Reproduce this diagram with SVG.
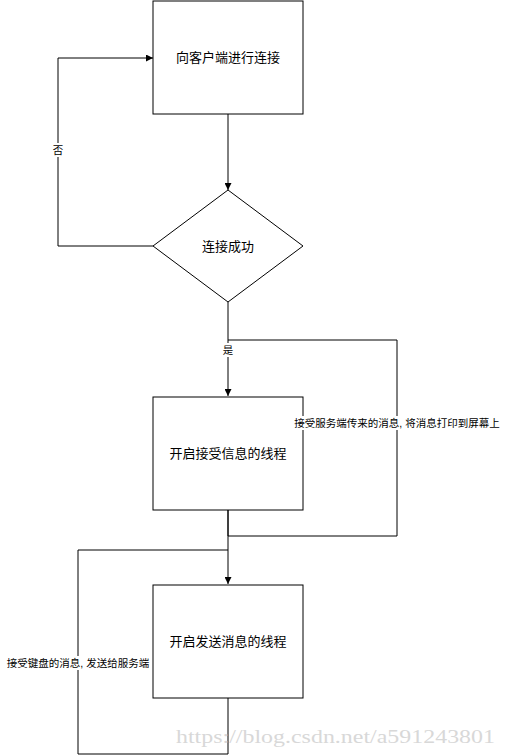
<svg xmlns="http://www.w3.org/2000/svg" width="507" height="756" viewBox="0 0 507 756">
<style>
.node{fill:#fff;stroke:#000;stroke-width:1}
.t{font-family:"Liberation Sans","Noto Sans CJK SC",sans-serif;font-size:13px;text-anchor:middle;dominant-baseline:central;fill:#000}
.lb{font-family:"Liberation Sans","Noto Sans CJK SC",sans-serif;font-size:10.5px;text-anchor:middle;dominant-baseline:central;fill:#000}
.c{fill:none;stroke:#000;stroke-width:1}
.wm{font-family:"Liberation Serif","DejaVu Serif",serif;font-size:19px;fill:#d8d8d8}
</style>
<defs>
<marker id="ar" viewBox="0 0 10 10" refX="10" refY="5" markerWidth="7" markerHeight="7" markerUnits="userSpaceOnUse" orient="auto">
<path d="M0,0 L10,5 L0,10 z" fill="#000"/>
</marker>
</defs>
<rect width="507" height="756" fill="#fff"/>
<g id="connectors">
<path class="c" d="M228,114 V190" marker-end="url(#ar)"/>
<path class="c" d="M153,246 H58 V58 H153" marker-end="url(#ar)"/>
<path class="c" d="M228,302 V396" marker-end="url(#ar)"/>
<path class="c" d="M228,510 V536 H397 V340 H228"/>
<path class="c" d="M228,510 V584" marker-end="url(#ar)"/>
<path class="c" d="M228,698 V754 H78 V550 H228"/>
</g>
<g id="n1">
<rect class="node" x="153" y="1" width="150" height="113"/>
<text class="t" x="228" y="57">向客户端进行连接</text>
</g>
<g id="n2">
<path class="node" d="M228,190 L303,246 L228,302 L153,246 Z"/>
<text class="t" x="228" y="246">连接成功</text>
</g>
<g id="n3">
<rect class="node" x="153" y="397" width="150" height="113"/>
<text class="t" x="228" y="453">开启接受信息的线程</text>
</g>
<g id="n4">
<rect class="node" x="153" y="585" width="150" height="113"/>
<text class="t" x="228" y="641">开启发送消息的线程</text>
</g>
<g id="labels">
<rect x="52" y="143" width="12" height="14" fill="#fff"/>
<text class="lb" x="58" y="150">否</text>
<rect x="222" y="343" width="12" height="14" fill="#fff"/>
<text class="lb" x="228" y="350">是</text>
<rect x="294" y="416" width="207" height="14" fill="#fff"/>
<text class="lb" x="397" y="423">接受服务端传来的消息, 将消息打印到屏幕上</text>
<rect x="6" y="656" width="144" height="14" fill="#fff"/>
<text class="lb" x="78" y="663">接受键盘的消息, 发送给服务端</text>
</g>
<text class="wm" x="176" y="743" textLength="319" lengthAdjust="spacingAndGlyphs">https://blog.csdn.net/a591243801</text>
</svg>
